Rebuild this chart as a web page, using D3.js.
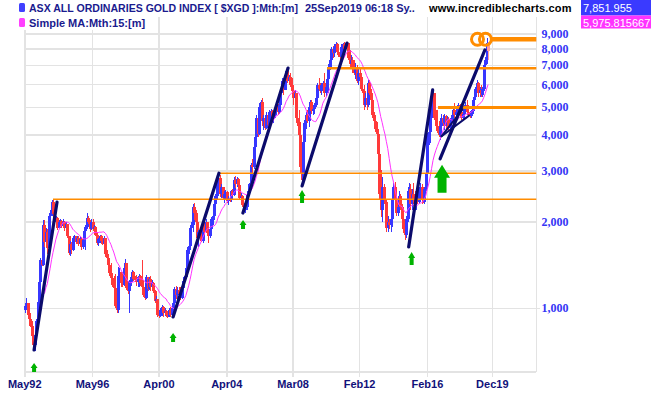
<!DOCTYPE html>
<html>
<head>
<meta charset="utf-8">
<script src="https://cdn.jsdelivr.net/npm/d3@7/dist/d3.min.js"></script>
<style>
    body { margin: 0; background: #fff; }
    svg { display: block; }
    .grid line { stroke: #e3e3e3; stroke-width: 1.6; shape-rendering: crispEdges; }
    .legend-text { font-family: Arial, "Liberation Sans", sans-serif; font-weight: bold; font-size: 11px; fill: #1a1a8e; }
    .x-label { font-family: Arial, "Liberation Sans", sans-serif; font-weight: bold; font-size: 11px; fill: #11117a; }
    .y-label { font-family: "Liberation Serif", "Times New Roman", serif; font-weight: bold; font-size: 12px; fill: #3535f5; }
</style>
</head>
<body>
<svg id="chart" width="651" height="395"></svg>
<script>
// monthly candles, May 1992 .. Sep 2019 (last one is the running month)
const firstOpen = 990;
const closes = [
    1020, 1040, 950, 915, 870, 800, 745, 810, 900, 1050,
    1230, 1470, 1420, 1950, 1700, 1850, 1620, 2100, 2150, 2350,
    2120, 2000, 2060, 1900, 2000, 2020, 1940, 2000, 1900, 1960,
    1790, 1560, 1680, 1600, 1760, 1780, 1700, 1760, 1680, 1740,
    1630, 1730, 1860, 1920, 2060, 1990, 1880, 1990, 1880, 1920,
    1800, 1690, 1740, 1780, 1720, 1680, 1760, 1540, 1500, 1420,
    1330, 1270, 1210, 1180, 1020, 990, 1300, 1340, 1220, 1210,
    1380, 1440, 1180, 1150, 1240, 1280, 1340, 1260, 1250, 1230,
    1290, 1300, 1220, 1190, 1110, 1090, 1280, 1170, 1260, 1190,
    1220, 1150, 1060, 1080, 950, 940, 985, 1010, 960, 980,
    950, 935, 990, 950, 1000, 1040, 1170, 1110, 1160, 1120,
    1090, 1180, 1240, 1280, 1380, 1600, 1650, 1900, 1950, 2250,
    2150, 2000, 1750, 1850, 1760, 1720, 1990, 1850, 2000, 1830,
    1780, 1880, 2050, 2100, 2300, 2450, 2750, 2850, 2500, 2650,
    2420, 2500, 2540, 2360, 2420, 2380, 2550, 2480, 2800, 2700,
    2820, 2680, 2420, 2460, 2280, 2200, 2260, 2480, 2560, 2700,
    3150, 3100, 3650, 3950, 4600, 4050, 5000, 5200, 4500, 4600,
    4250, 4700, 4350, 4800, 4850, 4550, 4700, 4900, 5050, 4800,
    5100, 5600, 6200, 5750, 6500, 6700, 6200, 6400, 6000, 5700,
    5400, 5600, 4600, 4450, 4000, 3100, 2800, 3800, 4400, 4700,
    4500, 5000, 5200, 4850, 4950, 5100, 5400, 6000, 5800, 5700,
    6000, 6100, 5600, 5900, 6300, 6900, 7300, 8000, 7700, 8100,
    8300, 7800, 7600, 7500, 8100, 8300, 8000, 8200, 8350, 7400,
    7100, 7300, 6800, 6600, 6900, 6200, 6600, 6400, 5800, 5700,
    5100, 5400, 5100, 6100, 5600, 5300, 4700, 4500, 4200, 4050,
    3450, 2500, 2200, 2650, 2400, 2350, 1900, 2000, 1950, 2050,
    2400, 2650, 2400, 2150, 2250, 2450, 2250, 2050, 1880, 1800,
    2050, 2550, 2600, 2300, 2500, 2400, 2350, 2500, 2350, 2600,
    2650, 2400, 2350, 2600, 2950, 3950, 4100, 5000, 5200, 5600,
    4600, 4300, 4150, 4000, 4300, 4600, 4400, 4650, 4300, 4550,
    4250, 4400, 4600, 4900, 4700, 4800, 4950, 5100, 4800, 4600,
    4750, 4900, 5100, 4800, 4700, 4650, 4850, 5300, 5450, 5800,
    6100, 5600, 5750, 5500, 5800, 7000, 7300, 8400, 7851.955
];
const highs = [
    1030, 1090, 1040, 980, 960, 900, 820, 830, 920, 1070,
    1250, 1500, 1680, 2030, 2030, 1900, 1880, 2140, 2200, 2390,
    2400, 2200, 2100, 2070, 2030, 2040, 2030, 2040, 2020, 1990,
    1960, 1780, 1720, 1700, 1780, 1800, 1790, 1780, 1780, 1770,
    1775, 1760, 1880, 1950, 2140, 2100, 2030, 2040, 2040, 1950,
    1930, 1850, 1760, 1800, 1800, 1750, 1780, 1760, 1590, 1520,
    1460, 1440, 1320, 1300, 1320, 1060, 1390, 1380, 1340, 1290,
    1400, 1490, 1440, 1220, 1255, 1300, 1359, 1350, 1300, 1310,
    1300, 1320, 1310, 1473, 1255, 1150, 1307, 1290, 1290, 1300,
    1250, 1230, 1158, 1100, 1069, 990, 1000, 1030, 1020, 1000,
    990, 980, 1000, 1010, 1027, 1060, 1190, 1200, 1190, 1190,
    1190, 1200, 1255, 1300, 1400, 1640, 1700, 1920, 2000, 2300,
    2320, 2200, 2020, 1873, 1873, 1900, 2029, 2000, 2050, 2000,
    1873, 1900, 2085, 2150, 2382, 2500, 2800, 2950, 2910, 2700,
    2640, 2560, 2580, 2560, 2450, 2480, 2580, 2600, 2860, 2880,
    2860, 2830, 2700, 2520, 2480, 2320, 2300, 2520, 2600, 2720,
    3200, 3300, 3700, 4070, 4700, 4700, 5180, 5300, 5400, 4700,
    4700, 4800, 4750, 4900, 4950, 4900, 4800, 5000, 5180, 5150,
    5200, 5700, 6340, 6300, 6600, 6800, 6900, 6500, 6600, 6340,
    5800, 5750, 5620, 4900, 4900, 4170, 3300, 3950, 4520, 4800,
    4900, 5180, 5300, 5310, 5000, 5180, 5500, 6080, 6340, 6100,
    6100, 6200, 6600, 6100, 6400, 7100, 7400, 8130, 8200, 8300,
    8450, 8400, 8200, 7900, 8300, 8400, 8450, 8400, 8450, 8300,
    7920, 7600, 7500, 7300, 7140, 7000, 6800, 6800, 6600, 6200,
    6000, 5600, 5500, 6230, 6230, 5800, 5430, 4800, 4650, 4430,
    4170, 3500, 3030, 2860, 2700, 2580, 2400, 2100, 2050, 2100,
    2440, 2720, 2750, 2400, 2300, 2560, 2500, 2300, 2200, 1980,
    2100, 2650, 2720, 2700, 2600, 2720, 2550, 2580, 2600, 2650,
    2720, 2700, 2640, 2650, 3000, 4060, 4300, 5180, 5300, 5750,
    5600, 4900, 4900, 4500, 4400, 4750, 4700, 4750, 4700, 4650,
    4620, 4500, 4700, 5000, 5180, 4900, 5000, 5180, 5150, 4900,
    4850, 5000, 5200, 5310, 4900, 4800, 4900, 5400, 5600, 5870,
    6230, 6150, 5900, 6000, 5900, 7140, 7500, 8700, 8450
];
const lows = [
    960, 1000, 935, 900, 860, 780, 730, 710, 790, 880,
    1030, 1200, 1400, 1400, 1640, 1620, 1550, 1600, 1900, 2100,
    2085, 1980, 1950, 1870, 1880, 1930, 1900, 1920, 1860, 1840,
    1760, 1530, 1520, 1540, 1580, 1700, 1680, 1680, 1650, 1650,
    1600, 1610, 1700, 1600, 1880, 1960, 1850, 1870, 1860, 1840,
    1780, 1660, 1650, 1690, 1690, 1660, 1650, 1510, 1480, 1400,
    1300, 1250, 1190, 1150, 1000, 960, 963, 1200, 1190, 1190,
    1200, 1255, 1158, 1120, 963, 1200, 1230, 1240, 1230, 1200,
    1190, 1190, 1200, 1150, 1095, 1069, 1080, 1150, 1160, 1150,
    1160, 1130, 1040, 1000, 935, 925, 930, 940, 935, 940,
    930, 925, 930, 930, 925, 960, 960, 1080, 1080, 1090,
    1069, 1080, 1130, 1200, 1260, 1288, 1550, 1638, 1830, 1850,
    2029, 1980, 1700, 1638, 1729, 1700, 1683, 1800, 1830, 1800,
    1683, 1750, 1850, 1950, 2029, 2250, 2400, 2700, 2440, 2420,
    2382, 2330, 2400, 2330, 2280, 2340, 2350, 2450, 2460, 2620,
    2650, 2650, 2382, 2350, 2250, 2160, 2150, 2200, 2420, 2500,
    2680, 2950, 3050, 3400, 3900, 3950, 4000, 4800, 4300, 4170,
    4170, 4200, 4270, 4270, 4500, 4450, 4400, 4600, 4750, 4700,
    4750, 5050, 5620, 5500, 5750, 6300, 6080, 6000, 5900, 5620,
    5100, 5020, 4400, 4300, 3850, 2950, 2686, 2860, 3470, 4200,
    4400, 4270, 4900, 4760, 4700, 4750, 5000, 5310, 5700, 5620,
    5500, 5650, 5430, 5430, 5800, 5600, 6750, 7000, 7400, 7500,
    7800, 7700, 7500, 7300, 7400, 7700, 7900, 7800, 7900, 7300,
    6900, 6800, 6600, 6500, 6300, 6080, 6000, 6300, 5700, 5620,
    4900, 5000, 4900, 5000, 5500, 5200, 4600, 4400, 4100, 3950,
    3370, 2400, 2080, 2000, 2300, 2260, 1840, 1850, 1880, 1850,
    1920, 2330, 2330, 2100, 2100, 2200, 2200, 2000, 1830, 1730,
    1750, 2000, 2440, 2200, 2200, 2300, 2250, 2200, 2300, 2300,
    2440, 2300, 2330, 2300, 2550, 2900, 3700, 3760, 4600, 5000,
    4520, 4200, 4060, 3950, 3850, 4100, 4300, 4170, 4200, 4250,
    4170, 4150, 4300, 4400, 4600, 4500, 4600, 4750, 4700, 4520,
    4520, 4650, 4800, 4700, 4620, 4580, 4580, 4750, 5100, 5300,
    5600, 5430, 5430, 5430, 5430, 5700, 6550, 7100, 7300
];
const maPeriod = 15;

const xTickDates = ["1992-05", "1996-05", "2000-04", "2004-04", "2008-03", "2012-02", "2016-02", "2019-12"];
const xTickLabels = ["May92", "May96", "Apr00", "Apr04", "Mar08", "Feb12", "Feb16", "Dec19"];
const yTicks = [1000, 2000, 3000, 4000, 5000, 6000, 7000, 8000, 9000];

// hand drawn annotations
const trendLines = [
    [["1992-11-19", 716], ["1994-03-28", 2340]],
    [["2001-01-31", 933], ["2003-10-16", 2950]],
    [["2005-03-16", 2145], ["2007-11-13", 6850]],
    [["2008-09-10", 2665], ["2011-05-07", 8370]],
    [["2014-12-25", 1635], ["2016-05-25", 5750]],
    [["2016-11-01", 3310], ["2019-06-25", 7920]]
];
const wedgeLines = [
    [["2016-11-20", 3950], ["2018-08-01", 4700]],
    [["2016-11-20", 3950], ["2018-03-15", 4950]]
];
const levels = [2397, 2950, 6840, 5000, 8630];
const levelStarts = ["1994-01-01", "2003-10-01", "2010-03-01", "2016-09-18", "2019-10-12"];
const levelWidths = [1.5, 1.5, 2.5, 3, 4.5];
const circleDates = ["2019-01-16", "2019-07-06"];
const circleValue = 8630;
const arrowDates = ["1992-11-19", "2001-01-31", "2005-03-18", "2008-09-10", "2015-02-27", "2016-12-13"];
const arrowValues = [645, 820, 2030, 2580, 1570, 3160];
const arrowSizes = ["s", "s", "s", "m", "m", "l"];

class GoldChart {
    constructor() {
        this.svg = d3.select("#chart");
        //plot box
        this.left = 24.7;
        this.right = 536.3;
        this.top = 17;
        this.bottom = 372;

        this.parse = d3.timeParse("%Y-%m-%d");
        this.scaleX = d3.scaleTime()
            .domain([new Date(1992, 4, 1), new Date(2019, 11, 1)])
            .range([24.7, 492.3]);
        this.scaleY = d3.scaleLog()
            .domain([1000, 9000])
            .range([308.3, 34]);

        this.dataPrepare();
        this.drawGrid();
        this.drawBars();
        this.drawMA();
        this.drawLevels();
        this.drawTrendlines();
        this.drawArrows();
        this.drawLegend();
    }

    dataPrepare() {
        this.data = closes.map((c, i) => {
            let o = i === 0 ? firstOpen : closes[i - 1];
            return {
                date: new Date(1992, 4 + i, 1),
                open: o,
                close: c,
                high: Math.max(highs[i], o, c),
                low: Math.min(lows[i], o, c),
                last: i === closes.length - 1
            };
        });
        this.ma = [];
        for (let i = maPeriod - 1; i < closes.length; i++) {
            this.ma.push({ date: this.data[i].date, value: d3.mean(closes.slice(i - maPeriod + 1, i + 1)) });
        }
    }

    drawGrid() {
        let g = this.svg.append("g").attr("class", "grid");
        g.selectAll(".hgrid").data(yTicks)
            .join("line")
            .attr("x1", this.left)
            .attr("x2", d => d === 1000 ? this.right + 4 : this.right)
            .attr("y1", d => this.scaleY(d))
            .attr("y2", d => this.scaleY(d));
        let parseMonth = d3.timeParse("%Y-%m");
        g.selectAll(".vgrid").data(xTickDates)
            .join("line")
            .attr("x1", d => this.scaleX(parseMonth(d)))
            .attr("x2", d => this.scaleX(parseMonth(d)))
            .attr("y1", this.top)
            .attr("y2", this.bottom + 5);
        g.append("line")
            .attr("x1", this.left).attr("x2", this.right)
            .attr("y1", this.bottom).attr("y2", this.bottom);
        g.append("line")
            .attr("x1", this.right).attr("x2", this.right)
            .attr("y1", this.top).attr("y2", this.bottom);

        this.svg.selectAll(".x-label").data(xTickDates)
            .join("text")
            .attr("class", "x-label")
            .attr("x", d => this.scaleX(parseMonth(d)))
            .attr("y", 388)
            .attr("text-anchor", "middle")
            .text((d, i) => xTickLabels[i]);

        this.svg.selectAll(".y-label").data(yTicks)
            .join("text")
            .attr("class", "y-label")
            .attr("x", 541.5)
            .attr("y", d => this.scaleY(d) + 4)
            .text(d => d3.format(",")(d));
    }

    drawBars() {
        let g = this.svg.append("g").attr("class", "bars");
        let bar = g.selectAll(".bar").data(this.data)
            .join("g")
            .attr("class", "bar");
        let color = d => d.last ? "#ff9c9c" : (d.close >= d.open ? "#3737ff" : "#ff3a3a");
        bar.append("rect")
            .attr("x", d => Math.round(this.scaleX(d.date)))
            .attr("width", 1)
            .attr("y", d => this.scaleY(d.high))
            .attr("height", d => Math.max(1, this.scaleY(d.low) - this.scaleY(d.high)))
            .attr("fill", color)
            .attr("shape-rendering", "crispEdges");
        bar.append("rect")
            .attr("x", d => Math.round(this.scaleX(d.date)) - 1)
            .attr("width", 3)
            .attr("y", d => this.scaleY(Math.max(d.open, d.close)))
            .attr("height", d => Math.max(1, Math.abs(this.scaleY(d.open) - this.scaleY(d.close))))
            .attr("fill", color)
            .attr("shape-rendering", "crispEdges");
    }

    drawMA() {
        let line = d3.line()
            .x(d => this.scaleX(d.date))
            .y(d => this.scaleY(d.value));
        this.svg.append("path")
            .datum(this.ma)
            .attr("fill", "none")
            .attr("stroke", "#ff33ff")
            .attr("stroke-width", 1)
            .attr("d", line);
    }

    drawLevels() {
        let g = this.svg.append("g").attr("class", "levels");
        g.selectAll("line").data(levels)
            .join("line")
            .attr("x1", (d, i) => this.scaleX(this.parse(levelStarts[i])))
            .attr("x2", this.right)
            .attr("y1", d => this.scaleY(d))
            .attr("y2", d => this.scaleY(d))
            .attr("stroke", "#ff8c00")
            .attr("stroke-width", (d, i) => levelWidths[i]);
    }

    drawTrendlines() {
        let g = this.svg.append("g").attr("class", "trend");
        let line = d3.line()
            .x(d => this.scaleX(this.parse(d[0])))
            .y(d => this.scaleY(d[1]));
        g.selectAll(".main").data(trendLines)
            .join("path")
            .attr("class", "main")
            .attr("d", line)
            .attr("fill", "none")
            .attr("stroke", "#0b0b6b")
            .attr("stroke-width", 3.2)
            .attr("stroke-linecap", "round");
        g.selectAll(".wedge").data(wedgeLines)
            .join("path")
            .attr("class", "wedge")
            .attr("d", line)
            .attr("fill", "none")
            .attr("stroke", "#0b0b6b")
            .attr("stroke-width", 2);

        // circles round the latest high
        g.selectAll("circle").data(circleDates)
            .join("circle")
            .attr("cx", d => this.scaleX(this.parse(d)))
            .attr("cy", this.scaleY(circleValue))
            .attr("r", 6)
            .attr("fill", "none")
            .attr("stroke", "#ff8c00")
            .attr("stroke-width", 3);
    }

    drawArrows() {
        let shapes = {
            s: { w: 7, hh: 5, sw: 4, h: 9 },
            m: { w: 7, hh: 6, sw: 4, h: 13 },
            l: { w: 16, hh: 13, sw: 9, h: 28 }
        };
        let path = s => `M0,0L${s.w / 2},${s.hh}L${s.sw / 2},${s.hh}L${s.sw / 2},${s.h}L${-s.sw / 2},${s.h}L${-s.sw / 2},${s.hh}L${-s.w / 2},${s.hh}Z`;
        this.svg.append("g").selectAll("path").data(arrowDates)
            .join("path")
            .attr("transform", (d, i) => `translate(${this.scaleX(this.parse(d))},${this.scaleY(arrowValues[i])})`)
            .attr("d", (d, i) => path(shapes[arrowSizes[i]]))
            .attr("fill", "#00b300");
    }

    drawLegend() {
        let svg = this.svg;
        svg.append("rect").attr("x", 17).attr("y", 17).attr("width", 134).attr("height", 13).attr("fill", "#fff");
        svg.append("rect").attr("x", 19).attr("y", 3).attr("width", 6).attr("height", 9).attr("rx", 1.5).attr("fill", "#4040ff");
        svg.append("rect").attr("x", 19).attr("y", 18).attr("width", 6).attr("height", 9).attr("rx", 1.5).attr("fill", "#ff40ff");
        svg.append("text").attr("class", "legend-text").attr("x", 29).attr("y", 12)
            .attr("textLength", 269).attr("lengthAdjust", "spacingAndGlyphs")
            .text("ASX ALL ORDINARIES GOLD INDEX [ $XGD ]:Mth:[m]");
        svg.append("text").attr("class", "legend-text").attr("x", 305).attr("y", 12)
            .text("25Sep2019 06:18 Sy..");
        svg.append("text").attr("class", "legend-text").attr("x", 29).attr("y", 27)
            .text("Simple MA:Mth:" + maPeriod + ":[m]");
        svg.append("text")
            .attr("x", 429).attr("y", 12)
            .style("font-family", "Arial, 'Liberation Sans', sans-serif")
            .style("font-weight", "bold").style("font-size", "11px")
            .style("letter-spacing", "0.15px")
            .attr("fill", "#000")
            .text("www.incrediblecharts.com");

        // last values
        let lastClose = closes[closes.length - 1];
        let boxes = [
            { y: 0, h: 15.5, fill: "#3a3aff", text: d3.format(",.3f")(lastClose) },
            { y: 15.5, h: 13, fill: "#ff33ff", text: "5,975.815667" }
        ];
        let bg = svg.selectAll(".valbox").data(boxes).join("g").attr("class", "valbox");
        bg.append("rect")
            .attr("x", 581).attr("y", d => d.y).attr("width", 70).attr("height", d => d.h)
            .attr("fill", d => d.fill);
        bg.append("text")
            .attr("x", 583).attr("y", d => d.y + 11.5)
            .style("font-family", "Arial, 'Liberation Sans', sans-serif")
            .style("font-size", "11px")
            .attr("fill", "#fff")
            .text(d => d.text);
    }
}

new GoldChart();
</script>
</body>
</html>
